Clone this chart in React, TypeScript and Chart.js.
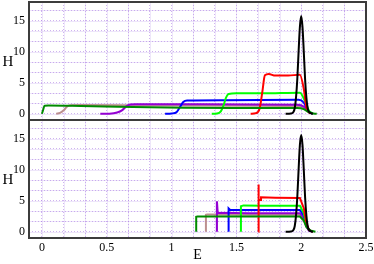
import { useEffect, useRef } from 'react';
import { Chart, registerables } from 'chart.js';

Chart.register(...registerables);

// ---------- tick labels ----------
const xTickValues = [0, 0.5, 1, 1.5, 2, 2.5];
const xTickLabels = ['0', '0.5', '1', '1.5', '2', '2.5'];
const yTickValues = [0, 5, 10, 15];
const yTickLabels = ['0', '5', '10', '15'];

// ---------- top panel ----------
const topBlackE = [1.88, 1.92, 1.94, 1.95, 1.96, 1.97, 1.98, 1.99, 2.0, 2.01, 2.02, 2.03, 2.04, 2.05, 2.06, 2.09];
const topBlackH = [0, 0.05, 0.3, 0.9, 2.6, 5.6, 10, 14, 15.75, 14, 10, 5.6, 2.6, 0.9, 0.3, 0];

const topGreen4E = [0.0, 0.01, 0.02, 0.05, 0.3, 0.7, 1.1, 1.5, 1.97, 2.02, 2.05, 2.08, 2.12];
const topGreen4H = [0.0, 0.7, 1.3, 1.33, 1.25, 1.08, 0.98, 0.95, 0.95, 0.75, 0.35, 0.08, 0.0];

const topBrownE = [0.11, 0.14, 0.17, 0.19, 0.21, 0.3, 1.0, 1.97, 2.02, 2.05, 2.09];
const topBrownH = [0, 0.15, 0.6, 1.1, 1.35, 1.4, 1.35, 1.25, 1.0, 0.4, 0];

const topVioletE = [0.45, 0.52, 0.58, 0.62, 0.65, 0.68, 0.72, 1.2, 1.97, 2.02, 2.05, 2.09];
const topVioletH = [0, 0.02, 0.2, 0.6, 1.2, 1.5, 1.55, 1.52, 1.45, 1.15, 0.45, 0];

const topBlueE = [0.95, 1.0, 1.04, 1.065, 1.09, 1.12, 1.4, 1.98, 2.02, 2.05, 2.09];
const topBlueH = [0, 0.05, 0.3, 1.1, 1.9, 2.15, 2.2, 2.25, 1.8, 0.6, 0];

const topGreenE = [1.31, 1.35, 1.38, 1.4, 1.42, 1.44, 1.5, 1.7, 1.99, 2.03, 2.06, 2.09];
const topGreenH = [0, 0.05, 0.4, 1.3, 2.6, 3.2, 3.3, 3.3, 3.4, 2.0, 0.5, 0];

const topRedE = [1.61, 1.65, 1.68, 1.7, 1.72, 1.75, 1.8, 1.9, 1.99, 2.02, 2.04, 2.07];
const topRedH = [0, 0.1, 0.9, 3.5, 6.2, 6.4, 6.15, 6.15, 6.3, 4.0, 1.0, 0];

// ---------- bottom panel ----------
const botBlackE = [1.88, 1.92, 1.94, 1.95, 1.96, 1.97, 1.98, 1.99, 2.0, 2.01, 2.02, 2.03, 2.04, 2.05, 2.06, 2.09];
const botBlackH = [0, 0.05, 0.3, 0.9, 2.6, 5.6, 10, 14, 15.6, 14, 10, 5.6, 2.6, 0.9, 0.3, 0];

const botGreen4E = [1.19, 1.19, 1.2, 1.6, 1.99, 2.02, 2.04, 2.07, 2.11];
const botGreen4H = [0, 2.4, 2.45, 2.45, 2.45, 1.8, 0.8, 0.2, 0];

const botBrownE = [1.265, 1.265, 1.275, 1.6, 1.99, 2.02, 2.04, 2.06, 2.09];
const botBrownH = [0, 2.75, 2.8, 2.75, 2.75, 2.0, 0.8, 0.2, 0];

const botVioletE = [1.35, 1.35, 1.356, 1.6, 1.99, 2.02, 2.04, 2.06, 2.09];
const botVioletH = [0, 4.9, 3.05, 3.0, 3.0, 2.2, 0.9, 0.2, 0];

const botBlueE = [1.44, 1.44, 1.452, 1.6, 1.99, 2.02, 2.04, 2.06, 2.09];
const botBlueH = [0, 3.75, 3.5, 3.5, 3.5, 2.6, 1.0, 0.25, 0];

const botGreenE = [1.535, 1.535, 1.555, 1.7, 1.99, 2.02, 2.04, 2.06, 2.09];
const botGreenH = [0, 4.1, 4.25, 4.2, 4.2, 3.0, 1.2, 0.3, 0];

const botRedE = [1.67, 1.67, 1.673, 1.69, 1.69, 1.8, 1.99, 2.02, 2.04, 2.06, 2.09];
const botRedH = [0, 7.6, 5.1, 5.1, 5.55, 5.5, 5.45, 3.8, 1.4, 0.3, 0];

// ---------- styling ----------
const cBlack = '#000000';
const cRed = '#ff0000';
const cGreen = '#00ff00';
const cBlue = '#0000ff';
const cBrown = '#bc8f8f';
const cViolet = '#9400d3';
const cGreen4 = '#008b00';

const FONT = '"Liberation Serif", "DejaVu Serif", serif';

const pts = (E: number[], H: number[]) => E.map((e, i) => ({ x: e, y: H[i] }));

const gridPale = 'rgba(222, 205, 245, 0.5)';
const gridDots = 'rgba(175, 130, 228, 0.6)';

const xGridValues: number[] = [];
for (let k = 0; k <= 15; k++) xGridValues.push(k / 6);
const yGridValues: number[] = [];
for (let k = 0; k <= 10; k++) yGridValues.push((k * 5) / 3);

const labelFor = (v: number, vals: number[], labels: string[]) => {
  const i = vals.findIndex((t) => Math.abs(t - v) < 1e-6);
  return i >= 0 ? labels[i] : '';
};

const palePlugin = {
  id: 'paleGrid',
  beforeDraw(chart: any) {
    const { ctx, chartArea } = chart;
    ctx.save();
    ctx.strokeStyle = gridPale;
    ctx.lineWidth = 1;
    const xs = chart.scales.x;
    xGridValues.forEach((v) => {
      const px = Math.round(xs.getPixelForValue(v)) + 0.5;
      ctx.beginPath();
      ctx.moveTo(px, chartArea.top);
      ctx.lineTo(px, chartArea.bottom);
      ctx.stroke();
    });
    ['yTop', 'yBot'].forEach((id) => {
      const s = chart.scales[id];
      yGridValues.forEach((v) => {
        const py = Math.round(s.getPixelForValue(v)) + 0.5;
        ctx.beginPath();
        ctx.moveTo(chartArea.left, py);
        ctx.lineTo(chartArea.right, py);
        ctx.stroke();
      });
    });
    ctx.restore();
  },
};

const framePlugin = {
  id: 'frames',
  afterDraw(chart: any) {
    const { ctx, chartArea } = chart;
    ctx.save();
    ctx.strokeStyle = '#3c3c3c';
    ctx.lineWidth = 2;
    ['yTop', 'yBot'].forEach((id) => {
      const s = chart.scales[id];
      ctx.strokeRect(chartArea.left, s.top, chartArea.right - chartArea.left, s.bottom - s.top);
      ctx.fillStyle = '#000';
      ctx.font = `15px ${FONT}`;
      ctx.textAlign = 'center';
      ctx.textBaseline = 'middle';
      ctx.fillText('H', 8, (s.top + s.bottom) / 2 + 1);
    });
    ctx.restore();
  },
};

const yScale = (w: number) => ({
  type: 'linear' as const,
  position: 'left' as const,
  stack: 'panels',
  stackWeight: 1,
  min: -1,
  max: 18,
  weight: w,
  afterBuildTicks: (s: any) => {
    s.ticks = yGridValues.map((v) => ({ value: v }));
  },
  afterFit: (s: any) => {
    s.width = 29;
    s.paddingTop = 0;
    s.paddingBottom = 0;
  },
  ticks: {
    autoSkip: false,
    padding: 4,
    color: '#000',
    font: { family: FONT, size: 12 },
    callback: (v: any) => labelFor(Number(v), yTickValues, yTickLabels),
  },
  grid: { color: gridDots, drawTicks: false, lineWidth: 1 },
  border: { display: false, dash: [1, 2] },
});

export default function App() {
  const ref = useRef<HTMLCanvasElement | null>(null);
  useEffect(() => {
    if (!ref.current) return;
    document.body.style.margin = '0';
    const ds = (E: number[], H: number[], color: string, axis: string, smooth: boolean) => ({
      data: pts(E, H),
      borderColor: color,
      backgroundColor: color,
      borderWidth: 2,
      pointRadius: 0,
      fill: false,
      yAxisID: axis,
      cubicInterpolationMode: smooth ? ('monotone' as const) : ('default' as const),
      tension: 0,
    });
    const chart = new Chart(ref.current, {
      type: 'line',
      data: {
        datasets: [
          ds(topBlackE, topBlackH, cBlack, 'yTop', true),
          ds(topGreen4E, topGreen4H, cGreen4, 'yTop', true),
          ds(topRedE, topRedH, cRed, 'yTop', true),
          ds(topGreenE, topGreenH, cGreen, 'yTop', true),
          ds(topBlueE, topBlueH, cBlue, 'yTop', true),
          ds(topVioletE, topVioletH, cViolet, 'yTop', true),
          ds(topBrownE, topBrownH, cBrown, 'yTop', true),
          ds(botBlackE, botBlackH, cBlack, 'yBot', true),
          ds(botGreen4E, botGreen4H, cGreen4, 'yBot', false),
          ds(botRedE, botRedH, cRed, 'yBot', false),
          ds(botGreenE, botGreenH, cGreen, 'yBot', false),
          ds(botBlueE, botBlueH, cBlue, 'yBot', false),
          ds(botVioletE, botVioletH, cViolet, 'yBot', false),
          ds(botBrownE, botBrownH, cBrown, 'yBot', false),
        ],
      },
      options: {
        animation: false,
        responsive: false,
        devicePixelRatio: 1,
        layout: { padding: { top: 2, right: 8, left: 0, bottom: 0 } },
        plugins: { legend: { display: false }, tooltip: { enabled: false } },
        scales: {
          x: {
            type: 'linear',
            min: -0.1,
            max: 2.5,
            position: 'bottom',
            afterBuildTicks: (s: any) => {
              s.ticks = xGridValues.map((v) => ({ value: v }));
            },
            afterFit: (s: any) => {
              s.height = 26;
              s.paddingLeft = 0;
              s.paddingRight = 0;
            },
            ticks: {
              autoSkip: false,
              maxRotation: 0,
              padding: 3,
              color: '#000',
              font: { family: FONT, size: 12 },
              callback: (v: any) => labelFor(Number(v), xTickValues, xTickLabels),
            },
            grid: { color: gridDots, drawTicks: false, lineWidth: 1 },
            border: { display: false, dash: [1, 2] },
            title: {
              display: true,
              text: 'E',
              color: '#000',
              font: { family: FONT, size: 14 },
              padding: { top: 0, bottom: 0 },
            },
          },
          yTop: yScale(1),
          yBot: yScale(0),
        },
      },
      plugins: [palePlugin, framePlugin],
    } as any);
    return () => chart.destroy();
  }, []);
  return (
    <div style={{ position: 'fixed', left: 0, top: 0, width: 374, height: 264, background: '#fff' }}>
      <canvas ref={ref} width={374} height={264} style={{ width: 374, height: 264, display: 'block' }} />
    </div>
  );
}
